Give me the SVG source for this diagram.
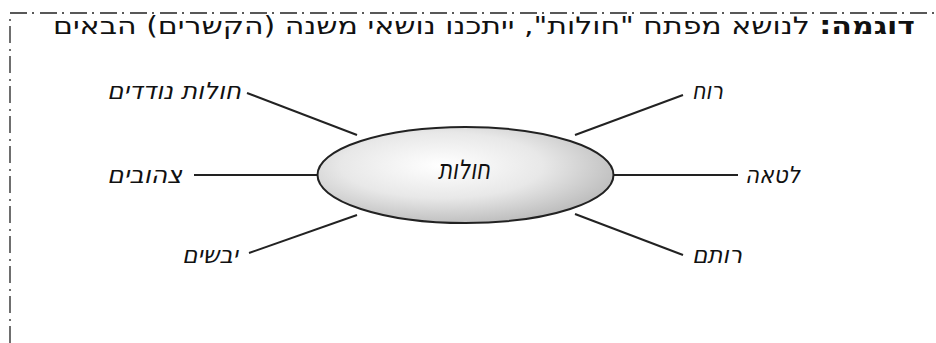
<svg xmlns="http://www.w3.org/2000/svg" width="936" height="343" viewBox="0 0 936 343">
<defs>
<radialGradient id="g" cx="0.42" cy="0.4" r="0.62">
<stop offset="0" stop-color="#ffffff"/>
<stop offset="0.55" stop-color="#e8e8e8"/>
<stop offset="1" stop-color="#bdbdbd"/>
</radialGradient>
</defs>
<style>
.border{fill:none;stroke:#222;stroke-width:1.3;stroke-dasharray:17 5 2 6}
.hdr{font-family:"DejaVu Sans","Liberation Sans",sans-serif;font-size:24px;fill:#111}
.lbl{font-family:"DejaVu Sans","Liberation Sans",sans-serif;font-size:23px;font-style:italic;fill:#111}
.ctr{font-size:27px}
.conn line{stroke:#222;stroke-width:2}
</style>
<rect width="936" height="343" fill="#fff"/>
<path class="border" d="M10,343 V13 H936"/>
<text class="hdr" x="915" y="34" direction="rtl" text-anchor="start" textLength="862" lengthAdjust="spacingAndGlyphs"><tspan font-weight="bold">דוגמה:</tspan> לנושא מפתח "חולות", ייתכנו נושאי משנה (הקשרים) הבאים</text>
<g id="connectors" class="conn">
<line x1="247" y1="93" x2="357" y2="135"/>
<line x1="194" y1="175" x2="318" y2="175"/>
<line x1="249" y1="253" x2="357" y2="215"/>
<line x1="575" y1="135" x2="683" y2="95"/>
<line x1="613" y1="175" x2="738" y2="175"/>
<line x1="575" y1="214" x2="683" y2="255"/>
</g>
<g id="center">
<ellipse cx="465.5" cy="175" rx="148" ry="48" fill="url(#g)" stroke="#222" stroke-width="2"/>
<text class="lbl ctr" x="490" y="179" direction="rtl" text-anchor="start" textLength="52" lengthAdjust="spacingAndGlyphs">חולות</text>
</g>
<g id="n-nodedim"><text class="lbl" x="241" y="99" direction="rtl" text-anchor="start" textLength="134" lengthAdjust="spacingAndGlyphs">חולות נודדים</text></g>
<g id="n-tsehubim"><text class="lbl" x="182" y="183" direction="rtl" text-anchor="start" textLength="75" lengthAdjust="spacingAndGlyphs">צהובים</text></g>
<g id="n-yeveshim"><text class="lbl" x="238" y="263" direction="rtl" text-anchor="start" textLength="56" lengthAdjust="spacingAndGlyphs">יבשים</text></g>
<g id="n-ruach"><text class="lbl" x="723" y="99" direction="rtl" text-anchor="start" textLength="31" lengthAdjust="spacingAndGlyphs">רוח</text></g>
<g id="n-leta"><text class="lbl" x="800" y="183" direction="rtl" text-anchor="start" textLength="55" lengthAdjust="spacingAndGlyphs">לטאה</text></g>
<g id="n-rotem"><text class="lbl" x="742" y="263" direction="rtl" text-anchor="start" textLength="50" lengthAdjust="spacingAndGlyphs">רותם</text></g>
</svg>
